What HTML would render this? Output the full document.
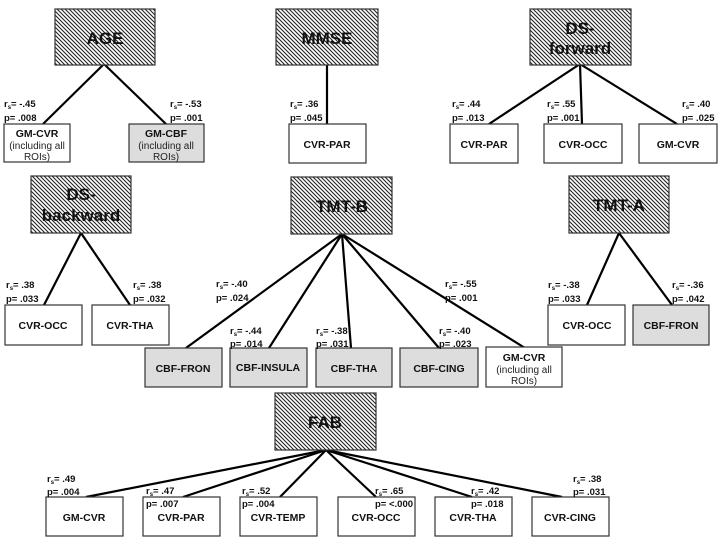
<!DOCTYPE html>
<html><head><meta charset="utf-8"><style>
html,body{margin:0;padding:0;background:#fff;}
svg{display:block;font-family:"Liberation Sans",sans-serif;}
.t{font-size:17px;font-weight:bold;fill:#111;text-anchor:middle;}
.n{font-size:10.5px;font-weight:bold;fill:#111;text-anchor:middle;}
.s{font-size:10px;fill:#222;text-anchor:middle;}
.l{font-size:9.5px;font-weight:bold;fill:#111;}
.sub{font-size:6px;}
</style></head><body>
<svg width="720" height="540" viewBox="0 0 720 540">
<defs>
<pattern id="h" width="4" height="4" patternUnits="userSpaceOnUse">
<rect width="4" height="4" fill="#fff"/>
<path d="M0,0L4,4M-1,3L1,5M3,-1L5,1" stroke="#222" stroke-width="1.1"/>
</pattern>
</defs>
<g stroke="#000" stroke-width="2.2" fill="none">
<line x1="104" y1="64" x2="43" y2="124"/><line x1="104" y1="64" x2="166" y2="124"/>
<line x1="327" y1="64" x2="327" y2="124"/>
<line x1="580" y1="64" x2="489" y2="124"/><line x1="580" y1="64" x2="582" y2="124"/><line x1="580" y1="64" x2="677" y2="124"/>
<line x1="81" y1="233" x2="44" y2="305"/><line x1="81" y1="233" x2="130" y2="305"/>
<line x1="342" y1="234" x2="186" y2="348"/><line x1="342" y1="234" x2="269" y2="348"/><line x1="342" y1="234" x2="351" y2="348"/><line x1="342" y1="234" x2="439" y2="348"/><line x1="342" y1="234" x2="525" y2="348"/>
<line x1="619" y1="233" x2="587" y2="305"/><line x1="619" y1="233" x2="672" y2="305"/>
<line x1="326" y1="450" x2="86" y2="497"/><line x1="326" y1="450" x2="183" y2="497"/><line x1="326" y1="450" x2="280" y2="497"/><line x1="326" y1="450" x2="376" y2="497"/><line x1="326" y1="450" x2="472" y2="497"/><line x1="326" y1="450" x2="562" y2="497"/>
</g>
<g stroke="#333" stroke-width="1.2">
<rect x="55" y="9" width="100" height="56" fill="url(#h)"/>
<rect x="276" y="9" width="102" height="56" fill="url(#h)"/>
<rect x="530" y="9" width="101" height="56" fill="url(#h)"/>
<rect x="31" y="176" width="100" height="57" fill="url(#h)"/>
<rect x="291" y="177" width="101" height="57" fill="url(#h)"/>
<rect x="569" y="176" width="100" height="57" fill="url(#h)"/>
<rect x="275" y="393" width="101" height="57" fill="url(#h)"/>
</g>
<g class="t">
<text x="105" y="44">AGE</text>
<text x="327" y="44">MMSE</text>
<text x="580" y="34">DS-</text><text x="580" y="54">forward</text>
<text x="81" y="200">DS-</text><text x="81" y="221">backward</text>
<text x="342" y="212">TMT-B</text>
<text x="619" y="211">TMT-A</text>
<text x="325" y="428">FAB</text>
</g>
<g stroke="#333" stroke-width="1.2">
<rect x="4" y="124" width="66" height="38" fill="#fff"/>
<rect x="129" y="124" width="75" height="38" fill="#ddd"/>
<rect x="289" y="124" width="77" height="39" fill="#fff"/>
<rect x="450" y="124" width="68" height="39" fill="#fff"/>
<rect x="544" y="124" width="78" height="39" fill="#fff"/>
<rect x="639" y="124" width="78" height="39" fill="#fff"/>
<rect x="5" y="305" width="77" height="40" fill="#fff"/>
<rect x="92" y="305" width="77" height="40" fill="#fff"/>
<rect x="145" y="348" width="77" height="39" fill="#ddd"/>
<rect x="230" y="348" width="77" height="39" fill="#ddd"/>
<rect x="316" y="348" width="76" height="39" fill="#ddd"/>
<rect x="400" y="348" width="78" height="39" fill="#ddd"/>
<rect x="486" y="347" width="76" height="40" fill="#fff"/>
<rect x="548" y="305" width="77" height="40" fill="#fff"/>
<rect x="633" y="305" width="76" height="40" fill="#ddd"/>
<rect x="46" y="497" width="77" height="39" fill="#fff"/>
<rect x="143" y="497" width="77" height="39" fill="#fff"/>
<rect x="240" y="497" width="77" height="39" fill="#fff"/>
<rect x="338" y="497" width="77" height="39" fill="#fff"/>
<rect x="435" y="497" width="77" height="39" fill="#fff"/>
<rect x="532" y="497" width="77" height="39" fill="#fff"/>
</g>
<g class="n">
<text x="37" y="137">GM-CVR</text>
<text x="166" y="137">GM-CBF</text>
<text x="327" y="148">CVR-PAR</text>
<text x="484" y="148">CVR-PAR</text>
<text x="583" y="148">CVR-OCC</text>
<text x="678" y="148">GM-CVR</text>
<text x="43" y="329">CVR-OCC</text>
<text x="130" y="329">CVR-THA</text>
<text x="183" y="372">CBF-FRON</text>
<text x="268" y="371">CBF-INSULA</text>
<text x="354" y="372">CBF-THA</text>
<text x="439" y="372">CBF-CING</text>
<text x="524" y="361">GM-CVR</text>
<text x="587" y="329">CVR-OCC</text>
<text x="671" y="329">CBF-FRON</text>
<text x="84" y="521">GM-CVR</text>
<text x="181" y="521">CVR-PAR</text>
<text x="278" y="521">CVR-TEMP</text>
<text x="376" y="521">CVR-OCC</text>
<text x="473" y="521">CVR-THA</text>
<text x="570" y="521">CVR-CING</text>
</g>
<g class="s">
<text x="37" y="149">(including all</text><text x="37" y="160">ROIs)</text>
<text x="166" y="149">(including all</text><text x="166" y="160">ROIs)</text>
<text x="524" y="373">(including all</text><text x="524" y="384">ROIs)</text>
</g>
<g class="l">
<text x="4" y="107">r<tspan class="sub" dy="2">s</tspan><tspan dy="-2">= -.45</tspan></text><text x="4" y="121">p= .008</text>
<text x="170" y="107">r<tspan class="sub" dy="2">s</tspan><tspan dy="-2">= -.53</tspan></text><text x="170" y="121">p= .001</text>
<text x="290" y="107">r<tspan class="sub" dy="2">s</tspan><tspan dy="-2">= .36</tspan></text><text x="290" y="121">p= .045</text>
<text x="452" y="107">r<tspan class="sub" dy="2">s</tspan><tspan dy="-2">= .44</tspan></text><text x="452" y="121">p= .013</text>
<text x="547" y="107">r<tspan class="sub" dy="2">s</tspan><tspan dy="-2">= .55</tspan></text><text x="547" y="121">p= .001</text>
<text x="682" y="107">r<tspan class="sub" dy="2">s</tspan><tspan dy="-2">= .40</tspan></text><text x="682" y="121">p= .025</text>
<text x="6" y="288">r<tspan class="sub" dy="2">s</tspan><tspan dy="-2">= .38</tspan></text><text x="6" y="302">p= .033</text>
<text x="133" y="288">r<tspan class="sub" dy="2">s</tspan><tspan dy="-2">= .38</tspan></text><text x="133" y="302">p= .032</text>
<text x="216" y="287">r<tspan class="sub" dy="2">s</tspan><tspan dy="-2">= -.40</tspan></text><text x="216" y="301">p= .024</text>
<text x="230" y="334">r<tspan class="sub" dy="2">s</tspan><tspan dy="-2">= -.44</tspan></text><text x="230" y="347">p= .014</text>
<text x="316" y="334">r<tspan class="sub" dy="2">s</tspan><tspan dy="-2">= -.38</tspan></text><text x="316" y="347">p= .031</text>
<text x="439" y="334">r<tspan class="sub" dy="2">s</tspan><tspan dy="-2">= -.40</tspan></text><text x="439" y="347">p= .023</text>
<text x="445" y="287">r<tspan class="sub" dy="2">s</tspan><tspan dy="-2">= -.55</tspan></text><text x="445" y="301">p= .001</text>
<text x="548" y="288">r<tspan class="sub" dy="2">s</tspan><tspan dy="-2">= -.38</tspan></text><text x="548" y="302">p= .033</text>
<text x="672" y="288">r<tspan class="sub" dy="2">s</tspan><tspan dy="-2">= -.36</tspan></text><text x="672" y="302">p= .042</text>
<text x="47" y="482">r<tspan class="sub" dy="2">s</tspan><tspan dy="-2">= .49</tspan></text><text x="47" y="495">p= .004</text>
<text x="146" y="494">r<tspan class="sub" dy="2">s</tspan><tspan dy="-2">= .47</tspan></text><text x="146" y="507">p= .007</text>
<text x="242" y="494">r<tspan class="sub" dy="2">s</tspan><tspan dy="-2">= .52</tspan></text><text x="242" y="507">p= .004</text>
<text x="375" y="494">r<tspan class="sub" dy="2">s</tspan><tspan dy="-2">= .65</tspan></text><text x="375" y="507">p= &lt;.000</text>
<text x="471" y="494">r<tspan class="sub" dy="2">s</tspan><tspan dy="-2">= .42</tspan></text><text x="471" y="507">p= .018</text>
<text x="573" y="482">r<tspan class="sub" dy="2">s</tspan><tspan dy="-2">= .38</tspan></text><text x="573" y="495">p= .031</text>
</g>
</svg>
</body></html>
